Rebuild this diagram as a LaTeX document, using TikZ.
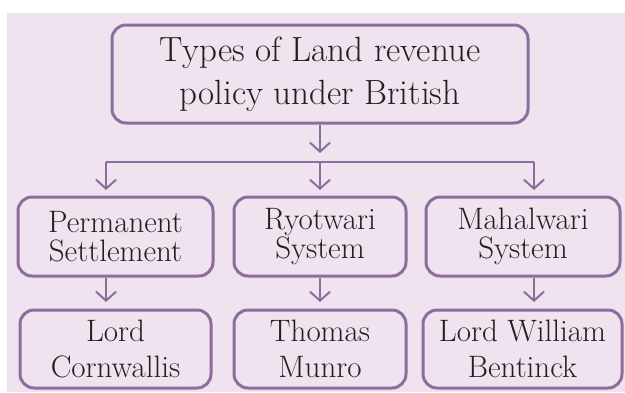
\documentclass[tikz,border=0pt]{standalone}
\usetikzlibrary{arrows.meta}
\definecolor{bgc}{HTML}{EFE3EF}
\definecolor{edge}{HTML}{8C6D9E}
\definecolor{txt}{HTML}{231F20}
\tikzset{
  box/.style={draw=edge, line width=3pt, rounded corners=14pt, fill=bgc, text=txt, align=center, inner sep=0pt},
  topbox/.style={box, minimum width=416pt, minimum height=98pt, font=\fontsize{35}{43}\selectfont},
  midbox/.style={box, minimum height=79pt, font=\fontsize{31}{28.5}\selectfont},
  lowbox/.style={box, minimum height=78pt, font=\fontsize{31}{36}\selectfont},
  conn/.style={draw=edge, line width=2pt},
  arr/.style={conn, -{Straight Barb[length=9pt,width=20pt]}},
}
\begin{document}
\begin{tikzpicture}[x=1pt,y=-1pt]
\useasboundingbox (0,0) rectangle (625,392);
\fill[bgc] (7,13) rectangle (625,392);
\node[topbox] (top) at (320,74) {Types of Land revenue\\policy under British};
\node[midbox, minimum width=195pt] (m1) at (115.5,236.5) {Permanent\\Settlement};
\node[midbox, minimum width=172pt] (m2) at (320,236.5) {Ryotwari\\System};
\node[midbox, minimum width=194pt] (m3) at (523,236.5) {Mahalwari\\System};
\node[lowbox, minimum width=191pt] (b1) at (115.5,349) {Lord\\Cornwallis};
\node[lowbox, minimum width=172pt] (b2) at (320,349) {Thomas\\Munro};
\node[lowbox, minimum width=199pt] (b3) at (522.5,349) {Lord William\\Bentinck};
\coordinate (t1) at (320,153);
\coordinate (hl) at (106,162);
\coordinate (hm) at (320,162);
\coordinate (hr) at (534,162);
\coordinate (c1) at (106,190);
\coordinate (c2) at (320,190);
\coordinate (c3) at (534,190);
\coordinate (d1) at (106,302);
\coordinate (d2) at (320,302);
\coordinate (d3) at (534,302);
\draw[arr] (top.south) -- (t1);
\draw[conn] (hl) -- (hr);
\draw[arr] (hl) -- (c1);
\draw[arr] (hm) -- (c2);
\draw[arr] (hr) -- (c3);
\draw[arr] (m1.south -| d1) -- (d1);
\draw[arr] (m2.south -| d2) -- (d2);
\draw[arr] (m3.south -| d3) -- (d3);
\end{tikzpicture}
\end{document}
